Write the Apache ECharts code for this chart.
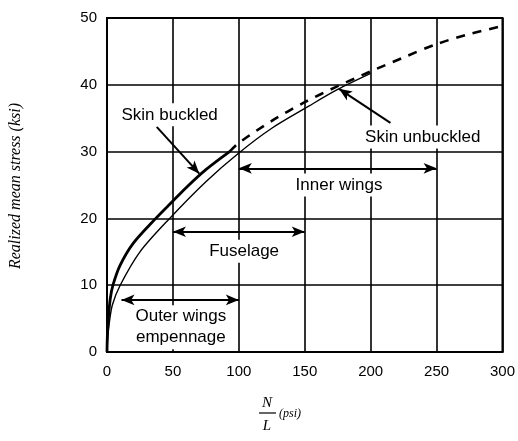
<!DOCTYPE html>
<html>
<head>
<meta charset="utf-8">
<script src="https://cdn.jsdelivr.net/npm/echarts@6/dist/echarts.min.js"></script>
<style>
html,body{margin:0;padding:0;background:#fff;}
#c{width:518px;height:441px;}
</style>
</head>
<body>
<div id="c"></div>
<script>
// ---- data ----
const xTicks = [0, 50, 100, 150, 200, 250, 300];
const yTicks = [0, 10, 20, 30, 40, 50];
const skinBuckled = [[0,0],[0.3,2.5],[1,5],[2.5,8],[4.5,10],[10,13],[20,16.3],[37,20],[50,22.6],[60,24.6],[75,27.3],[93,30]];
const skinUnbuckled = [[0,0],[0.5,2],[1.5,4],[4,7],[10,10],[25,15],[47.5,20],[75,25.5],[100,29.8],[125,33.5],[153,36.8],[175,39.3],[200,41.7]];
const extrapolated = [[93,30],[100,31.3],[125,34.6],[150,37.4],[175,39.8],[200,42],[225,44.1],[250,46.1],[275,47.6],[300,48.8]];
// ranges: [start, end, level]
const outerWings = [11, 100, 7.8];
const fuselage = [50, 150, 18];
const innerWings = [100, 250, 27.5];
// pointer arrows: [from, to]
const buckledPointer = [[37.7, 33.7], [70, 26.7]];
const unbuckledPointer = [[215, 34.3], [176, 39.4]];
// annotation labels: [text, x, y]
const labels = [
  ['Skin buckled', 47.5, 35.5],
  ['Skin unbuckled', 239.5, 32.2],
  ['Inner wings', 176, 25.0],
  ['Fuselage', 104, 15.1],
  ['Outer wings\nempennage', 56, 3.7]
];

const font = '"Liberation Sans", Arial, sans-serif';
const chart = echarts.init(document.getElementById('c'), null, {renderer: 'canvas'});

function rangeLine(r) {
  return [{coord: [r[0], r[2]]}, {coord: [r[1], r[2]]}];
}

const option = {
  backgroundColor: '#fff',
  animation: false,
  grid: {left: 107, right: 13, top: 18, bottom: 89, show: true, borderColor: '#000', borderWidth: 2, backgroundColor: 'transparent'},
  xAxis: {
    type: 'value', min: xTicks[0], max: xTicks[xTicks.length - 1], interval: 50,
    axisLine: {show: true, lineStyle: {color: '#000', width: 2}},
    axisTick: {show: false},
    splitLine: {show: true, lineStyle: {color: '#000', width: 1.6}},
    axisLabel: {color: '#000', fontSize: 15, fontFamily: font, margin: 12}
  },
  yAxis: {
    type: 'value', min: yTicks[0], max: yTicks[yTicks.length - 1], interval: 10,
    axisLine: {show: true, lineStyle: {color: '#000', width: 2}},
    axisTick: {show: false},
    splitLine: {show: true, lineStyle: {color: '#000', width: 1.6}},
    axisLabel: {color: '#000', fontSize: 15, fontFamily: font, margin: 10}
  },
  series: [
    {
      type: 'line', data: skinBuckled, smooth: 0.3, showSymbol: false,
      lineStyle: {color: '#000', width: 2.8}, z: 5
    },
    {
      type: 'line', data: skinUnbuckled, smooth: 0.3, showSymbol: false,
      lineStyle: {color: '#000', width: 1.4}, z: 5
    },
    {
      type: 'line', data: extrapolated, smooth: 0.3, showSymbol: false,
      lineStyle: {color: '#000', width: 2.6, type: [9, 8]}, z: 5
    },
    {
      type: 'line', data: [], z: 6,
      markLine: {
        silent: true, symbol: ['arrow', 'arrow'], symbolSize: [8, 13],
        label: {show: false},
        lineStyle: {color: '#000', width: 2, type: 'solid'},
        data: [
          rangeLine(outerWings),
          rangeLine(fuselage),
          rangeLine(innerWings),
          [{coord: buckledPointer[0], symbol: 'none'}, {coord: buckledPointer[1], symbol: 'arrow'}],
          [{coord: unbuckledPointer[0], symbol: 'none'}, {coord: unbuckledPointer[1], symbol: 'arrow'}]
        ]
      },
      markPoint: {
        silent: true, symbol: 'circle', symbolSize: 0,
        label: {
          show: true, position: 'inside', color: '#000', fontSize: 17, fontFamily: font,
          backgroundColor: '#fff', padding: [1, 2], lineHeight: 21,
          formatter: p => p.name
        },
        data: labels.map(l => ({name: l[0], coord: [l[1], l[2]]}))
      }
    }
  ],
  graphic: [
    {
      type: 'text', x: 16, y: 186, rotation: Math.PI / 2,
      style: {text: 'Realized mean stress (ksi)', font: 'italic 16px "Liberation Serif", "Times New Roman", serif', fill: '#000', textAlign: 'center', textVerticalAlign: 'middle'}
    },
    {
      type: 'text', x: 267, y: 403,
      style: {text: 'N', font: 'italic 15px "Liberation Serif", serif', fill: '#000', textAlign: 'center', textVerticalAlign: 'middle'}
    },
    {
      type: 'line', shape: {x1: 259, y1: 413, x2: 276, y2: 413}, style: {stroke: '#000', lineWidth: 1.2}
    },
    {
      type: 'text', x: 267, y: 426,
      style: {text: 'L', font: 'italic 15px "Liberation Serif", serif', fill: '#000', textAlign: 'center', textVerticalAlign: 'middle'}
    },
    {
      type: 'text', x: 279, y: 414,
      style: {text: '(psi)', font: 'italic 12px "Liberation Serif", serif', fill: '#000', textAlign: 'left', textVerticalAlign: 'middle'}
    }
  ]
};
chart.setOption(option);
</script>
</body>
</html>
